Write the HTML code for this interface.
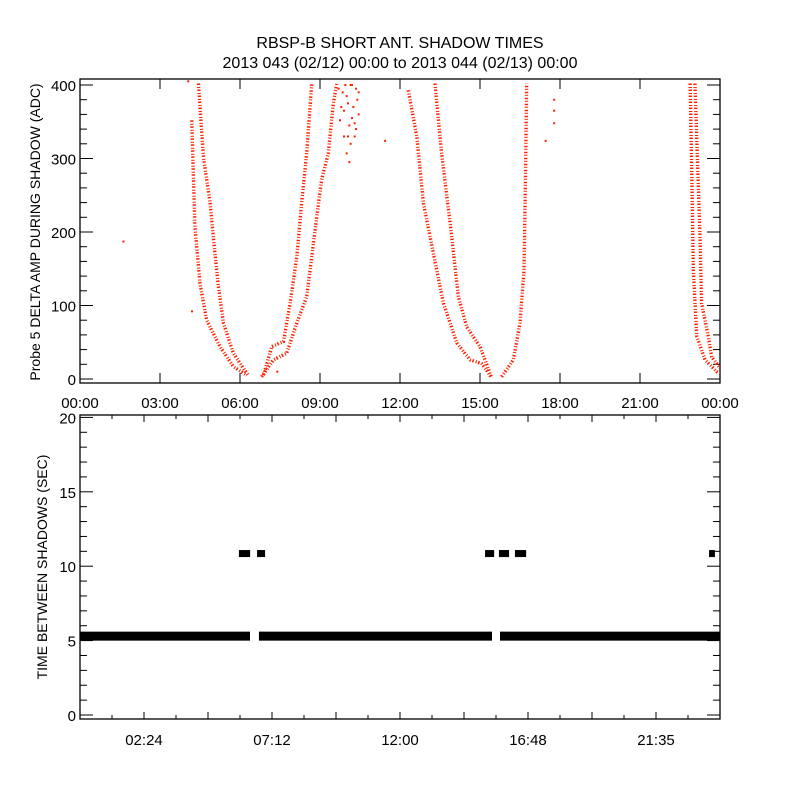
<!DOCTYPE html>
<html><head><meta charset="utf-8"><style>
body{margin:0;background:#fff}
svg{display:block;font-family:"Liberation Sans",sans-serif}
</style></head><body>
<svg id="chart" width="800" height="800" viewBox="0 0 800 800">
<rect width="800" height="800" fill="#fff"/>
<text x="400" y="48" text-anchor="middle" font-size="16">RBSP-B SHORT ANT. SHADOW TIMES</text>
<text x="400" y="68" text-anchor="middle" font-size="16">2013 043 (02/12) 00:00 to 2013 044 (02/13) 00:00</text>
<g id="topPanel"></g>
<g id="botPanel"></g>
</svg>
<script>
// ---------- Top panel data ----------
const branchOuterMorning = [[4.19,352],[4.31,207],[4.5,130],[4.75,80],[5.25,44],[5.75,17],[6.25,5]];
const branchInnerMorning = [[4.44,402],[4.63,302],[4.88,239],[5.06,171],[5.19,126],[5.38,76],[5.75,35],[6.31,5]];
const branchRiseLower = [[6.81,3],[7.25,26],[7.75,35],[8.13,76],[8.5,112],[8.69,166],[8.88,221],[9.06,271],[9.31,307],[9.5,375],[9.63,402]];
const branchRiseUpper = [[6.88,5],[7.19,44],[7.63,51],[7.88,103],[8.13,166],[8.31,239],[8.5,307],[8.69,402]];
const branchNoonOuter = [[12.31,393],[12.63,330],[12.88,239],[13.25,171],[13.63,103],[14.13,49],[14.63,26],[15.06,21],[15.25,12],[15.44,1]];
const branchNoonInner = [[13.31,402],[13.56,307],[13.88,212],[14.19,112],[14.5,71],[15.0,44],[15.19,26],[15.44,1]];
const branchAfternoon = [[15.81,3],[16.25,26],[16.5,76],[16.65,148],[16.71,284],[16.75,402]];
const branchNightA = [[22.88,402],[22.94,284],[23.0,148],[23.13,58],[23.44,26],[23.88,10],[24,8]];
const branchNightB = [[23.06,402],[23.25,194],[23.31,103],[23.56,58],[23.69,30],[24,15]];
const cloudPoints = [[9.75,352],[9.85,390],[9.9,330],[10.0,307],[10.05,375],[10.1,345],[10.2,400],[10.25,370],[10.3,330],[10.35,395],[10.45,360],[9.95,400],[10.15,320],[9.8,370],[10.0,385],[10.1,295],[10.2,355],[10.4,380],[10.3,348],[9.9,365],[10.05,330],[10.15,400],[10.35,340],[10.45,390],[9.7,395]];
const isolatedPoints = [[1.63,187],[11.44,324],[17.46,324],[17.78,348],[17.78,365],[17.78,380],[4.06,405],[4.2,92],[7.4,10]];
const topXTicks = ["00:00","03:00","06:00","09:00","12:00","15:00","18:00","21:00","00:00"];
const topYTicks = [0,100,200,300,400];

// ---------- Bottom panel data ----------
const bandValue = 5.3;
const bandSegments = [[0,6.375],[6.71,15.45],[15.75,24]];
const highValue = 10.85;
const highClusters = [[5.96,6.38],[6.64,6.94],[15.19,15.53],[15.71,16.09],[16.31,16.73],[23.59,23.81]];
const botXTicks = ["02:24","07:12","12:00","16:48","21:35"];
const botYTicks = [0,5,10,15,20];

const NS="http://www.w3.org/2000/svg";
function mk(tag,attrs,parent){const e=document.createElementNS(NS,tag);for(const k in attrs)e.setAttribute(k,attrs[k]);parent.appendChild(e);return e;}
const L=80,R=720;
const tx=h=>L+h*(R-L)/24;
const ty=v=>379-v*0.735;
const topG=document.getElementById('topPanel');
const tframe=mk('rect',{x:L,y:79,width:R-L,height:304,fill:'none',stroke:'#000','stroke-width':1.3},topG);


for(let v=0;v<=400;v+=20){
  const len=(v%100===0)?13:7;const y=ty(v);
  mk('line',{x1:L,x2:L+len,y1:y,y2:y,stroke:'#000'},topG);
  mk('line',{x1:R,x2:R-len,y1:y,y2:y,stroke:'#000'},topG);
}
topYTicks.forEach(v=>{
  const t=mk('text',{x:76,y:ty(v)+6,'text-anchor':'end','font-size':15},topG);t.textContent=v;
  
  
});
topXTicks.forEach((s,i)=>{
  const x=tx(i*3);
  mk('line',{x1:x,x2:x,y1:383,y2:373,stroke:'#000'},topG);
  mk('line',{x1:x,x2:x,y1:79,y2:89,stroke:'#000'},topG);
  const t=mk('text',{x:x,y:408,'text-anchor':'middle','font-size':15},topG);t.textContent=s;
  
  
});
const yt=mk('text',{x:0,y:0,'text-anchor':'middle','font-size':14,transform:'translate(40,232) rotate(-90)'},topG);
yt.textContent='Probe 5 DELTA AMP DURING SHADOW (ADC)';


const clip=mk('clipPath',{id:'tc'},topG);mk('rect',{x:L,y:79,width:R-L,height:304},clip);
const series=mk('g',{'clip-path':'url(#tc)'},topG);
[branchOuterMorning,branchInnerMorning,branchRiseLower,branchRiseUpper,branchNoonOuter,branchNoonInner,branchAfternoon,branchNightA,branchNightB].forEach(b=>{
  const p=mk('polyline',{points:b.map(d=>tx(d[0])+','+ty(d[1])).join(' '),fill:'none',stroke:'#ff2000','stroke-width':3.4,'stroke-dasharray':'1.5 2 1 1.5'},series);
  
  
});
cloudPoints.concat(isolatedPoints).forEach(d=>{
  const r=mk('rect',{x:tx(d[0])-1,y:ty(d[1])-1,width:2,height:2,fill:'#ff2000'},series);
  
  
});
const bx=h=>L+h*(R-L)/24;
const by=v=>715-v*14.88;
const botG=document.getElementById('botPanel');
const bframe=mk('rect',{x:L,y:415,width:R-L,height:304,fill:'none',stroke:'#000','stroke-width':1.3},botG);


for(let v=0;v<=20;v++){
  const len=(v%5===0)?13:7;const y=by(v);
  mk('line',{x1:L,x2:L+len,y1:y,y2:y,stroke:'#000'},botG);
  mk('line',{x1:R,x2:R-len,y1:y,y2:y,stroke:'#000'},botG);
}
botYTicks.forEach(v=>{
  const t=mk('text',{x:76,y:by(v)+6,'text-anchor':'end','font-size':15},botG);t.textContent=v;
  
  
});
for(let i=1;i<20;i++){
  const x=bx(i*1.2);const len=(i%2===0)?7:4;
  mk('line',{x1:x,x2:x,y1:719,y2:719-len,stroke:'#000'},botG);
  mk('line',{x1:x,x2:x,y1:415,y2:415+len,stroke:'#000'},botG);
}
botXTicks.forEach((s,i)=>{
  const t=mk('text',{x:bx((i+1)*4.8-2.4),y:745,'text-anchor':'middle','font-size':15},botG);t.textContent=s;
  
  
});
const yb=mk('text',{x:0,y:0,'text-anchor':'middle','font-size':14,transform:'translate(47,567) rotate(-90)'},botG);
yb.textContent='TIME BETWEEN SHADOWS (SEC)';


bandSegments.forEach(s=>{
  const r=mk('rect',{x:bx(s[0]),y:by(bandValue)-4.5,width:bx(s[1])-bx(s[0]),height:9,fill:'#000'},botG);
  
  
});
highClusters.forEach(s=>{
  const r=mk('rect',{x:bx(s[0]),y:by(highValue)-3.5,width:bx(s[1])-bx(s[0]),height:7,fill:'#000'},botG);
  
  
});
</script>
</body></html>
